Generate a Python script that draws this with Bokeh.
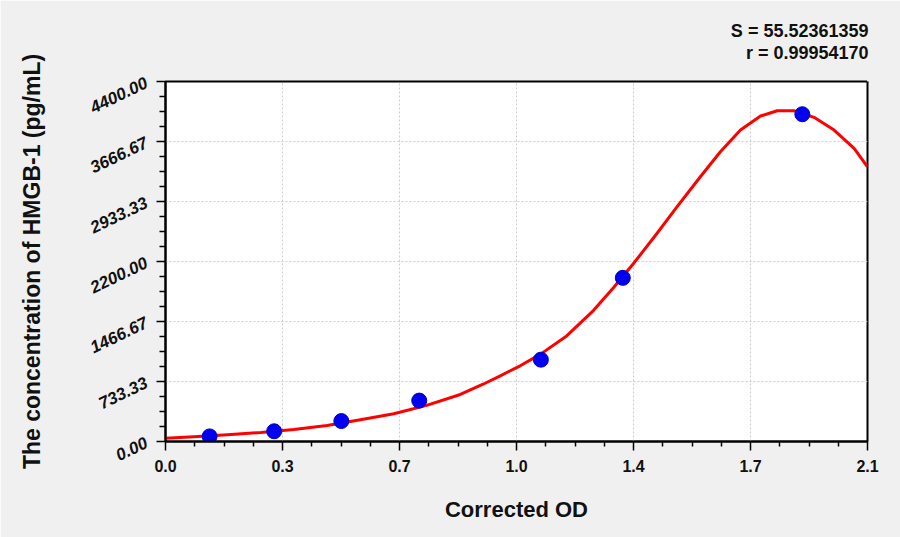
import math
from bokeh.plotting import figure
from bokeh.models import (Range1d, FixedTicker, PrintfTickFormatter, Title,
                          LinearAxis, CustomJSTickFormatter)
from bokeh.embed import file_html
from bokeh.resources import INLINE

# ---- data ----
std_od = [0.132, 0.325, 0.526, 0.759, 1.123, 1.368, 1.905]
std_conc = [62.5, 125, 250, 500, 1000, 2000, 4000]

curve_od = [0.00, 0.085, 0.185, 0.285, 0.384, 0.483, 0.583, 0.683, 0.781, 0.882,
            0.95, 1.00, 1.061, 1.121, 1.20, 1.28, 1.34, 1.40, 1.47, 1.53,
            1.60, 1.66, 1.72, 1.78, 1.83, 1.88, 1.94, 2.00, 2.06, 2.10]
curve_conc = [40, 58, 82, 110, 147, 196, 265, 339, 441, 575,
              700, 800, 925, 1065, 1290, 1600, 1880, 2175, 2542, 2868,
              3236, 3541, 3806, 3978, 4043, 4043, 3962, 3806, 3582, 3357]

x_ticks = [0.0, 0.35, 0.70, 1.05, 1.40, 1.75, 2.10]
x_tick_labels = ["0.0", "0.3", "0.7", "1.0", "1.4", "1.7", "2.1"]
y_ticks = [0.0, 733.333, 1466.667, 2200.0, 2933.333, 3666.667, 4400.0]

fit_s = "S = 55.52361359"
fit_r = "r = 0.99954170"
x_title = "Corrected OD"
y_title = "The concentration of HMGB-1 (pg/mL)"

FONT = "'Liberation Sans', Arial, sans-serif"
NARROW = "'Liberation Sans Narrow', 'Liberation Sans', Arial, sans-serif"
BG = "#f0f0f0"

p = figure(width=900, height=537, output_backend="svg", toolbar_location=None,
           x_range=Range1d(x_ticks[0], x_ticks[-1]),
           y_range=Range1d(y_ticks[0], y_ticks[-1]),
           min_border_left=165, min_border_right=33,
           min_border_top=81, min_border_bottom=96)
p.background_fill_color = "white"
p.border_fill_color = BG
p.outline_line_color = "black"
p.outline_line_width = 2

# minor tick positions (4 intervals per major)
x_minor = [x_ticks[i] + (x_ticks[i + 1] - x_ticks[i]) * k / 4
           for i in range(len(x_ticks) - 1) for k in range(1, 4)]
y_minor = [y_ticks[i] + (y_ticks[i + 1] - y_ticks[i]) * k / 4
           for i in range(len(y_ticks) - 1) for k in range(1, 4)]

p.xaxis.ticker = FixedTicker(ticks=x_ticks, minor_ticks=x_minor)
p.yaxis.ticker = FixedTicker(ticks=y_ticks, minor_ticks=y_minor)
p.xaxis.major_label_overrides = {t: l for t, l in zip(x_ticks, x_tick_labels)}
p.yaxis.formatter = PrintfTickFormatter(format="%.2f")

for ax in (p.xaxis, p.yaxis):
    ax.axis_line_color = "black"
    ax.axis_line_width = 2
    ax.major_tick_line_color = "black"
    ax.minor_tick_line_color = "black"
    ax.major_tick_line_width = 1.5
    ax.minor_tick_line_width = 1.5
    ax.major_tick_in = 0
    ax.minor_tick_in = 0
    ax.major_label_text_font = FONT
    ax.major_label_text_font_style = "bold"
    ax.major_label_text_color = "#111111"
    ax.axis_label_text_font = FONT
    ax.axis_label_text_font_style = "bold"
    ax.axis_label_text_color = "#111111"

p.xaxis.major_tick_out = 9
p.xaxis.minor_tick_out = 5
p.yaxis.major_tick_out = 9
p.yaxis.minor_tick_out = 6

p.xaxis.major_label_text_font_size = "16px"
p.xaxis.major_label_standoff = 9
p.xaxis.axis_label = x_title
p.xaxis.axis_label_text_font_size = "22px"
p.xaxis.axis_label_standoff = 22

p.yaxis.major_label_text_font_size = "17px"
p.yaxis.major_label_text_font_style = "bold italic"
p.yaxis.major_label_orientation = 0.45
p.yaxis.major_label_standoff = 10
p.yaxis.axis_label = y_title
p.yaxis.axis_label_text_font_size = "23px"
p.yaxis.axis_label_standoff = 38

p.grid.grid_line_color = "#cccccc"
p.grid.grid_line_dash = "2 2"
p.grid.grid_line_width = 1

p.line(curve_od, curve_conc, line_color="#ff0000", line_width=3,
       line_join="round")
p.scatter(std_od, std_conc, size=15, fill_color="#0000ee", line_color="#0000cc")

# invisible spacer axis above the frame (one background-coloured tick at the
# right corner, blank label), then the two fit-statistic lines
spacer = LinearAxis(ticker=FixedTicker(ticks=[x_ticks[-1]], minor_ticks=[]),
                    formatter=CustomJSTickFormatter(code="return ''"),
                    axis_line_color=None,
                    major_tick_out=19, minor_tick_out=0,
                    major_tick_in=0, minor_tick_in=0,
                    major_tick_line_color=BG, major_tick_line_width=1,
                    minor_tick_line_color=None,
                    major_label_text_font_size="1px",
                    major_label_standoff=0)
p.add_layout(spacer, "above")
for txt in (fit_r, fit_s):
    p.add_layout(Title(text=txt, align="right", text_font=NARROW, offset=-1,
                       text_font_size="18px", text_font_style="bold",
                       text_color="#111111", standoff=0), "above")

open("out.html", "w").write(file_html(p, INLINE))
